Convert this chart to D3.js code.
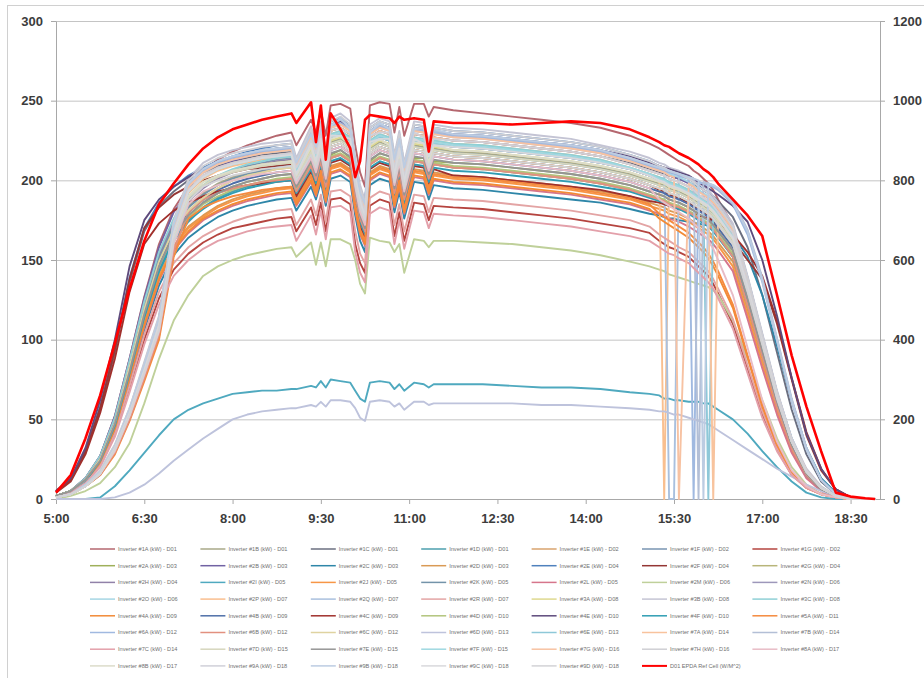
<!DOCTYPE html>
<meta charset="utf-8">
<script src="https://d3js.org/d3.v7.min.js"></script>
<style>
  body { margin: 0; background: #fff; }
  svg { display: block; }
</style>
<div id="chart"></div>
<script>
// sample times, shared by every series (finer steps where the clouds and outages are)
var times = ["5:00","5:15","5:30","5:45","6:00","6:15","6:30","6:45","7:00","7:15","7:30","7:45","8:00","8:15","8:30","8:45","9:00",
  "9:05","9:20","9:25","9:30","9:35","9:40","9:50","10:00","10:05","10:10","10:15","10:20","10:30","10:40","10:45","10:50","10:55","11:05","11:15","11:20","11:25",
  "11:45","12:15","12:45","13:15","13:45","14:15","14:45","15:05",
  "15:15","15:20","15:25","15:30","15:35","15:45","15:50","15:55","16:00","16:05","16:10","16:15",
  "16:30","16:45","17:00","17:15","17:30","17:45","18:00","18:15","18:30","18:45","18:55"];

var seriesNames = [
  "Inverter #1A (kW) - D01","Inverter #1B (kW) - D01","Inverter #1C (kW) - D01","Inverter #1D (kW) - D01","Inverter #1E (kW) - D02","Inverter #1F (kW) - D02","Inverter #1G (kW) - D02",
  "Inverter #2A (kW) - D03","Inverter #2B (kW) - D03","Inverter #2C (kW) - D03","Inverter #2D (kW) - D03","Inverter #2E (kW) - D04","Inverter #2F (kW) - D04","Inverter #2G (kW) - D04",
  "Inverter #2H (kW) - D04","Inverter #2I (kW) - D05","Inverter #2J (kW) - D05","Inverter #2K (kW) - D05","Inverter #2L (kW) - D05","Inverter #2M (kW) - D06","Inverter #2N (kW) - D06",
  "Inverter #2O (kW) - D06","Inverter #2P (kW) - D07","Inverter #2Q (kW) - D07","Inverter #2R (kW) - D07","Inverter #3A (kW) - D08","Inverter #3B (kW) - D08","Inverter #3C (kW) - D08",
  "Inverter #4A (kW) - D09","Inverter #4B (kW) - D09","Inverter #4C (kW) - D09","Inverter #4D (kW) - D10","Inverter #4E (kW) - D10","Inverter #4F (kW) - D10","Inverter #5A (kW) - D11",
  "Inverter #6A (kW) - D12","Inverter #6B (kW) - D12","Inverter #6C (kW) - D12","Inverter #6D (kW) - D13","Inverter #6E (kW) - D13","Inverter #7A (kW) - D14","Inverter #7B (kW) - D14",
  "Inverter #7C (kW) - D14","Inverter #7D (kW) - D15","Inverter #7E (kW) - D15","Inverter #7F (kW) - D15","Inverter #7G (kW) - D16","Inverter #7H (kW) - D16","Inverter #8A (kW) - D17",
  "Inverter #8B (kW) - D17","Inverter #9A (kW) - D18","Inverter #9B (kW) - D18","Inverter #9C (kW) - D18","Inverter #9D (kW) - D18"];
var refName = "D01 EPDA Ref Cell (W/M^2)";

// kW per inverter, one row per series, same order as seriesNames
var inverterKw = [
  [2,5,13,27,52,88,127,160,182,196,206,213,218,222,225,228,230, 222,238,230,244,228,247,248,245,222,205,196,247,249,248,230,246,228,248,248,240,246, 244,242,240,238,236,233,228,223, 220,218,216,214,212,209,206,204,201,198,194,188, 172,138,102,66,37,18,7,2,0,0,0],
  [2,5,12,26,49,84,121,151,172,184,192,198,202,205,207,209,210, 200,218,210,222,206,224,226,221,200,183,176,220,224,221,201,216,197,222,221,211,220, 218,217,215,213,211,208,204,200, 198,197,195,194,193,190,188,186,184,182,179,175, 163,132,98,64,36,17,7,2,0,0,0],
  [5,12,29,56,92,136,168,184,193,200,205,209,212,214,216,217,218, 206,226,218,229,212,231,233,229,207,190,182,227,231,229,208,223,204,229,228,218,227, 225,224,222,220,218,215,211,207, 205,204,203,202,201,199,197,196,194,192,190,187, 177,158,128,92,56,28,11,3,0,0,0],
  [2,5,11,23,45,78,113,142,162,174,183,189,193,196,198,200,201, 193,209,199,212,195,214,216,212,190,174,166,210,214,212,192,206,187,212,211,200,210, 208,207,205,203,201,198,194,190, 188,187,185,184,183,180,178,176,174,172,169,165, 152,122,90,58,32,15,6,2,0,0,0],
  [2,5,12,25,48,83,119,149,169,181,189,195,200,203,205,207,208, 200,216,208,219,203,221,223,219,198,183,175,217,221,219,199,213,195,219,218,208,217, 215,214,212,210,208,205,201,197, 195,194,192,191,190,187,185,183,181,179,176,172, 160,130,97,63,36,17,7,2,0,0,0],
  [2,5,13,27,51,86,123,154,175,188,196,202,206,209,211,213,214, 205,222,212,225,208,227,229,225,203,186,177,223,227,225,204,219,200,225,224,214,223, 221,220,218,216,214,211,207,203, 201,200,198,197,196,193,191,189,187,185,182,178, 166,135,100,66,37,18,7,2,0,0,0],
  [2,4,10,21,40,70,100,126,144,154,161,166,170,172,174,176,177, 168,183,172,186,168,188,189,185,160,148,142,184,188,186,165,180,162,186,185,175,184, 183,182,180,178,176,173,170,167, 162,160,158,157,155,152,149,146,143,140,135,129, 110,82,53,31,15,7,3,1,0,0,0],
  [2,5,12,24,47,80,116,146,166,178,186,192,196,199,201,203,204, 195,211,204,214,199,216,219,214,193,176,169,212,217,215,195,208,190,214,214,203,212, 211,210,208,206,204,201,197,193, 191,190,188,187,186,183,181,179,177,175,172,168, 156,126,93,61,34,16,6,2,0,0,0],
  [2,5,13,27,52,88,126,158,180,193,202,208,212,215,217,219,220, 210,229,219,232,214,234,236,232,208,190,181,230,234,232,210,226,206,232,231,220,230, 228,227,225,223,221,218,213,209, 206,205,203,202,201,198,196,194,191,189,186,182, 169,137,102,66,37,18,7,2,0,0,0],
  [1,4,10,22,42,73,106,134,153,164,171,177,181,184,186,188,189, 181,196,188,199,184,201,203,199,178,162,155,197,201,199,180,193,176,199,198,188,197, 195,194,192,190,188,186,182,179, 178,177,176,176,175,174,173,173,172,172,171,170, 166,152,128,96,62,32,13,4,1,0,0],
  [2,5,11,23,45,77,111,140,159,171,178,184,188,191,193,195,196, 188,204,195,207,191,209,211,207,186,170,163,205,209,207,188,201,183,207,206,196,205, 203,202,200,198,196,193,190,186, 184,183,181,180,179,176,174,172,170,168,165,161, 149,119,88,57,31,15,6,2,0,0,0],
  [5,12,30,58,95,139,170,186,196,203,208,212,215,218,220,222,223, 212,232,222,235,217,237,239,235,211,193,184,233,237,235,213,229,209,235,234,223,233, 231,230,228,226,224,221,216,212, 209,208,206,205,204,201,199,197,194,192,189,184, 171,139,103,67,38,18,7,2,0,0,0],
  [5,12,30,57,94,138,170,183,191,196,200,203,205,207,208,209,210, 200,216,208,219,203,221,223,219,198,182,174,217,221,219,199,213,195,219,218,208,217, 215,214,212,210,208,205,201,197, 194,193,191,190,189,186,184,182,180,177,174,170, 162,150,138,110,75,40,18,6,1,0,0],
  [1,3,8,15,29,50,76,102,155,180,188,192,195,197,199,200,201, 193,209,200,212,196,214,216,212,191,176,168,210,214,212,192,206,188,212,211,201,210, 208,207,205,203,201,198,194,190, 188,187,185,184,183,180,178,176,174,172,169,165, 152,122,90,58,32,15,6,2,0,0,0],
  [2,5,13,26,50,85,122,153,174,187,195,201,205,208,210,212,213, 205,222,213,225,208,227,229,225,203,186,178,223,227,225,204,219,200,225,224,214,223, 221,220,218,216,214,211,207,203, 200,199,197,196,195,192,190,188,186,184,181,177, 164,133,99,64,36,17,7,2,0,0,0],
  [0,0,0,1,8,18,29,40,50,56,60,63,66,67,68,68,69, 69,71,70,74,70,75,74,73,68,63,61,73,74,73,69,72,68,73,72,70,72, 72,72,71,70,70,69,67,66, 65,63,63,62,62,61,61,61,60,60,58,56, 50,41,30,20,11,4,1,0,0,0,0],
  [2,5,11,23,44,76,110,139,158,170,177,183,187,190,192,194,195, 186,202,193,205,189,207,209,205,184,168,161,203,207,205,186,199,181,205,204,194,203, 201,200,198,196,194,191,188,184, 182,181,179,178,177,174,172,170,168,166,163,159, 146,116,85,55,30,14,5,1,0,0,0],
  [2,5,12,25,49,84,120,151,171,183,191,197,201,204,206,208,209, 202,218,209,221,205,223,225,221,200,184,176,219,223,221,201,215,197,221,220,210,219, 217,216,214,212,210,207,203,199, 197,196,194,193,192,189,187,185,183,181,178,174, 161,131,97,63,35,17,7,2,0,0,0],
  [2,5,11,23,44,75,108,137,156,167,175,180,184,187,189,191,192, 184,199,190,202,186,204,206,202,181,166,159,200,204,202,183,196,179,202,201,191,200, 198,197,195,193,191,188,185,181, 179,178,176,175,174,171,169,167,165,163,160,156, 143,113,82,53,29,13,5,1,0,0,0],
  [0,2,5,10,20,35,60,88,112,128,140,146,150,153,155,157,158, 152,161,147,161,146,163,163,160,150,135,129,164,162,161,155,160,142,163,162,158,162, 162,161,160,158,156,153,149,146, 144,143,141,140,139,137,136,135,134,133,131,128, 112,88,62,38,20,9,3,1,0,0,0],
  [1,3,8,17,32,55,82,110,168,194,203,208,211,213,215,216,217, 206,226,216,229,212,231,233,229,206,189,180,227,231,229,208,223,203,229,228,217,227, 225,224,222,220,218,215,210,206, 204,203,201,200,199,196,194,191,189,187,184,180, 167,135,100,66,37,18,7,2,0,0,0],
  [1,3,9,17,33,56,84,113,172,198,207,212,215,217,219,220,221, 210,230,220,233,216,235,238,233,210,193,184,231,235,233,212,227,207,233,232,221,231, 229,228,226,224,222,219,214,210, 207,206,204,203,202,199,197,194,192,190,187,183, 170,138,102,67,38,18,7,2,0,0,0],
  [1,3,8,16,32,54,80,109,166,192,201,206,209,211,213,214,215, 208,224,214,227,210,229,231,227,205,188,179,225,229,227,206,221,202,227,226,215,225, 223,222,220,218,216,213,208,204, 202,0,199,198,197,194,192,190,188,186,183,179, 166,134,99,65,36,17,7,2,0,0,0],
  [1,3,8,17,33,55,83,111,170,196,205,210,213,215,217,218,219, 209,228,218,231,214,233,235,231,208,191,182,229,233,231,210,225,205,231,230,219,229, 227,226,224,222,220,217,212,208, 206,205,0,0,203,201,200,199,198,197,196,194, 186,168,138,100,62,32,12,3,0,0,0],
  [2,4,10,21,41,71,103,130,148,158,165,170,174,177,179,181,182, 172,188,178,191,174,193,194,190,168,154,148,189,193,191,172,185,168,191,190,180,189, 188,187,185,183,181,178,175,171, 166,164,162,160,158,155,152,149,146,143,138,132, 113,84,55,32,16,7,3,1,0,0,0],
  [1,3,8,16,31,53,80,108,164,190,199,203,206,208,210,211,212, 204,220,211,223,207,225,227,223,202,185,177,221,225,223,203,217,199,223,222,212,221, 219,218,216,214,212,209,205,201, 199,198,196,195,194,191,189,187,185,183,180,176, 163,132,98,64,36,17,7,2,0,0,0],
  [1,3,9,18,34,57,86,115,175,201,211,216,219,221,223,224,225, 214,234,224,237,220,239,242,237,214,197,187,235,239,237,216,231,211,237,236,225,235, 233,232,230,228,226,222,218,214, 211,210,208,207,206,203,200,198,196,194,190,186, 173,140,104,68,38,19,8,2,0,0,0],
  [2,5,13,27,51,87,124,155,176,189,197,203,207,210,212,214,215, 207,224,215,227,210,229,231,227,205,188,180,225,229,227,206,221,202,227,226,216,225, 223,222,220,218,216,213,208,204, 202,201,199,198,197,194,192,190,188,186,183,179, 166,134,99,65,36,17,7,2,0,0,0],
  [2,5,11,23,44,76,109,138,157,168,176,181,185,188,190,192,193, 185,200,191,203,187,205,207,203,182,167,160,201,205,203,184,197,180,203,202,192,201, 199,198,196,194,192,189,186,182, 176,174,172,170,168,164,161,158,155,151,146,140, 120,89,58,34,17,7,3,1,0,0,0],
  [2,5,12,25,48,82,118,148,168,180,188,194,198,201,203,205,206, 198,214,205,217,201,219,221,217,196,180,172,215,219,217,197,211,193,217,216,206,215, 213,212,210,208,206,203,199,195, 193,192,190,189,188,185,183,181,179,177,174,170, 158,128,95,62,35,17,7,2,0,0,0],
  [4,11,28,54,88,130,160,173,181,186,190,193,195,197,198,199,200, 190,206,196,209,192,211,213,209,187,171,164,207,211,209,189,203,185,209,208,198,207, 203,202,200,198,196,194,190,187, 186,185,184,183,182,180,179,178,177,176,175,173, 166,155,140,112,76,42,19,6,1,0,0],
  [2,5,12,24,47,80,116,145,165,177,185,190,194,197,199,201,202, 194,210,201,213,197,215,217,213,192,176,168,211,215,213,193,207,189,213,212,202,211, 209,208,206,204,202,199,195,191, 189,188,186,185,184,181,179,177,175,173,170,166, 154,125,93,60,34,16,6,2,0,0,0],
  [5,13,32,62,100,146,175,188,196,202,207,211,214,216,218,220,221, 210,230,220,233,216,235,237,233,210,193,184,231,235,233,212,227,207,233,232,221,231, 229,228,226,224,222,219,215,211, 209,208,207,206,205,203,201,199,197,195,193,191, 184,174,150,115,76,41,19,6,1,0,0],
  [2,5,11,24,46,79,114,143,163,175,182,188,192,195,197,199,200, 192,207,198,210,194,212,214,210,190,174,166,208,212,210,191,204,186,210,209,199,208, 206,205,203,201,199,196,193,189, 187,186,184,183,182,179,177,175,173,171,168,164, 152,123,91,59,33,15,6,2,0,0,0],
  [1,3,8,15,28,49,74,100,152,176,183,187,190,192,194,195,196, 187,203,194,206,190,208,210,206,185,169,162,204,208,206,187,200,182,206,205,195,204, 202,201,199,197,195,192,189,185, 179,177,175,173,171,167,164,161,158,154,149,143, 122,90,59,34,17,8,3,1,0,0,0],
  [1,3,8,17,33,56,84,113,172,197,206,211,214,216,218,219,220, 210,229,219,232,215,234,236,232,209,192,183,230,234,232,211,226,206,232,231,220,230, 228,227,225,223,221,218,213,209, 207,206,205,204,203,201,0,199,198,197,196,194, 185,166,136,99,61,31,12,3,0,0,0],
  [1,3,8,15,29,50,76,103,156,180,188,192,195,197,199,200,201, 193,209,200,212,196,214,216,212,191,176,168,210,214,212,192,206,188,212,211,201,210, 208,207,205,203,201,198,194,190, 188,187,185,184,183,180,178,176,174,172,169,165, 152,122,90,58,32,15,6,2,0,0,0],
  [2,5,12,25,48,83,119,149,169,181,189,195,200,203,205,207,208, 200,216,207,219,203,221,223,219,198,182,174,217,221,219,199,213,195,219,218,208,217, 215,214,212,210,208,205,201,197, 195,194,192,191,190,187,185,183,181,179,176,172, 160,130,97,63,36,17,7,2,0,0,0],
  [0,0,0,0,1,4,9,16,24,31,38,44,50,53,55,56,57, 57,59,58,61,58,62,62,61,57,51,49,61,62,61,58,60,56,61,61,59,60, 60,60,60,59,59,58,57,56, 55,55,54,53,53,51,50,49,48,47,45,43, 37,31,25,19,14,9,5,2,0,0,0],
  [1,3,8,16,32,54,81,109,167,193,202,207,210,212,214,215,216, 205,222,213,225,208,227,229,225,203,186,178,223,227,225,204,219,200,225,224,214,223, 221,220,218,216,214,211,207,203, 200,199,197,196,195,192,190,188,186,0,181,177, 164,133,99,64,36,17,7,2,0,0,0],
  [1,3,8,17,32,55,82,110,168,194,203,208,211,213,215,216,217, 207,226,216,229,212,231,233,229,206,189,180,227,231,229,208,223,203,229,228,217,227, 225,224,222,220,218,215,210,206, 204,203,201,200,199,196,194,191,189,187,0,180, 167,135,100,66,37,18,7,2,0,0,0],
  [1,3,9,17,33,56,84,113,172,198,207,212,215,217,219,220,221, 210,230,220,233,216,235,238,233,210,193,184,231,235,233,212,227,207,233,232,221,231, 229,228,226,224,222,219,214,210, 208,207,206,205,204,202,201,0,199,198,197,195, 187,169,139,101,63,32,12,3,0,0,0],
  [1,4,10,20,39,67,97,122,140,150,157,162,165,168,170,171,172, 162,178,166,181,163,183,184,180,155,142,136,179,183,181,160,175,157,181,180,170,179, 178,177,175,173,171,168,165,162, 158,156,154,153,151,148,145,142,139,136,132,126, 107,79,51,30,15,7,3,1,0,0,0],
  [1,3,8,16,31,53,79,107,163,189,197,202,205,207,209,210,211, 202,218,209,221,205,223,225,221,200,184,176,219,223,221,201,215,197,221,220,210,219, 217,216,214,212,210,207,203,199, 197,196,194,193,192,189,187,185,183,181,178,174, 161,131,97,63,35,17,7,2,0,0,0],
  [2,5,12,24,47,80,116,146,166,178,186,192,196,199,201,203,204, 196,212,203,215,199,217,219,215,194,178,170,213,217,215,195,209,191,215,214,204,213, 211,210,208,206,204,201,197,193, 191,190,188,187,186,183,181,179,177,175,172,168, 156,126,93,61,34,16,6,2,0,0,0],
  [1,3,8,16,32,54,81,109,167,193,202,207,210,212,214,215,216, 206,223,214,226,209,228,230,226,204,187,179,224,228,226,205,220,201,226,225,215,224, 222,221,219,217,215,212,208,204, 201,200,198,197,196,193,191,189,187,185,182,178, 165,134,99,65,36,17,7,2,0,0,0],
  [1,3,8,17,33,55,83,111,170,196,205,210,213,215,217,218,219, 209,228,218,231,214,233,235,231,208,191,182,229,233,231,210,225,205,231,230,219,229, 227,226,224,222,220,217,212,208, 206,205,203,202,0,198,196,193,191,189,186,182, 169,137,101,66,37,18,7,2,0,0,0],
  [1,3,9,18,34,57,85,114,174,200,209,214,217,219,221,222,223, 212,232,222,235,218,237,240,235,212,195,185,233,237,235,214,229,209,235,234,223,233, 231,230,228,226,224,221,216,212, 209,208,206,205,204,201,199,196,194,192,188,184, 171,139,103,67,38,18,7,2,0,0,0],
  [1,3,8,16,30,52,78,105,160,185,193,197,200,202,204,205,206, 198,214,205,217,201,219,221,217,196,180,172,215,219,217,197,211,193,217,216,206,215, 213,212,210,208,206,203,199,195, 188,186,184,182,180,176,173,170,166,162,157,150, 128,95,62,36,18,8,3,1,0,0,0],
  [1,3,8,16,31,53,80,108,164,190,199,203,206,208,210,211,212, 203,221,210,224,206,226,228,222,201,186,176,222,226,222,202,218,198,224,223,211,222, 219,218,216,214,212,209,205,201, 199,198,196,195,194,191,189,187,185,183,180,176, 163,132,98,64,36,17,7,2,0,0,0],
  [1,3,8,17,32,55,82,110,168,194,203,208,211,213,215,216,217, 208,225,217,228,211,232,232,230,205,190,179,228,230,230,207,224,202,230,227,218,226, 225,224,222,220,218,215,210,206, 204,203,201,200,199,196,194,191,189,187,184,180, 167,135,100,66,37,18,7,2,0,0,0],
  [1,3,9,17,33,56,84,113,172,198,207,212,215,217,219,220,221, 211,229,221,232,217,234,239,232,211,192,185,230,236,232,213,226,208,232,233,220,232, 229,228,226,224,222,219,214,210, 208,207,206,205,204,202,201,200,0,198,197,195, 186,168,137,100,62,31,12,3,0,0,0],
  [1,3,8,16,32,54,81,109,167,193,202,207,210,212,214,215,216, 204,223,212,226,207,228,228,226,202,187,177,224,226,226,203,220,199,226,223,215,222, 221,220,218,216,214,211,207,203, 200,199,197,196,195,192,190,188,186,184,181,177, 164,133,99,64,36,17,7,2,0,0,0],
  [1,3,8,16,31,53,79,106,162,187,196,200,203,205,207,208,209, 200,216,208,219,203,221,223,219,198,183,175,217,221,219,199,213,195,219,218,208,217, 215,214,212,210,208,205,201,197, 195,194,192,191,190,187,185,183,181,179,176,172, 160,130,97,63,36,17,7,2,0,0,0]
];

// reference cell irradiance, W/m^2 (right axis)
var refCellWm2 = [16,60,152,260,392,528,648,740,792,840,880,908,928,940,952,960,968,
  944,996,896,988,852,968,928,880,808,848,952,964,960,956,944,960,952,956,952,872,948,
  944,944,940,944,948,944,928,908,
  896,888,884,876,868,856,848,840,828,820,808,792,
  752,712,660,512,360,232,120,16,6,2,0];

var leftTicks = [0, 50, 100, 150, 200, 250, 300];
var rightTicks = [0, 200, 400, 600, 800, 1000, 1200];
var xTickLabels = ["5:00","6:30","8:00","9:30","11:00","12:30","14:00","15:30","17:00","18:30"];

var lineColors = [
  "#b5676f","#a8a889","#6b6f80","#4d9fae","#d9a36e","#7895b2","#b5443f",
  "#9fb05a","#7162a3","#2e86a8","#d99a55","#4f81bd","#943634","#b8b57a",
  "#9181a8","#4fa9bf","#f79646","#7393a9","#d6758b","#bfd09a","#9d97ba",
  "#a6d6e4","#f9bf8f","#a9c0de","#e3a4a4","#ded98f","#c4c4d4","#8fd0d6",
  "#f28a36","#4f6fa8","#a0302c","#b2c47c","#5e4a7c","#2f9db3","#f58a3e",
  "#a0b9e0","#e2907f","#dfd3a0","#bec3dc","#8ec8d8","#f8c39d","#b3bfd6",
  "#e3a0aa","#d6d6bd","#959595","#9fd8e1","#f7c2a2","#cfcfd4","#e8bcc6",
  "#dcdcca","#d0d0d8","#bccce2","#d8d8dc","#d3d3d6"];
var refColor = "#ff0000";

inverterKw.forEach(function(row, i) {
  if (row.length !== times.length) console.warn("row", i, "has", row.length, "values");
});

var width = 924, height = 678;
var svg = d3.select("#chart").append("svg")
  .attr("width", width)
  .attr("height", height);

// chart frame
svg.append("rect")
  .attr("x", 7.5).attr("y", 5.5)
  .attr("width", 930).attr("height", 690)
  .attr("fill", "#fff")
  .attr("stroke", "#d0d0d0");

function toMin(t) {
  var p = t.split(":");
  return (+p[0] - 5) * 60 + (+p[1]);
}

var x = d3.scaleLinear().domain([0, 840]).range([56, 880]);
var y = d3.scaleLinear().domain([0, 300]).range([499, 21]);
var y2 = d3.scaleLinear().domain([0, 1200]).range([499, 21]);

// gridlines
var grid = svg.append("g")
  .attr("transform", "translate(56,0)")
  .call(d3.axisLeft(y).tickValues(leftTicks.slice(1)).tickSize(-824).tickFormat(""));
grid.select(".domain").remove();
grid.selectAll("line").attr("stroke", "#c4c4c4");

function styleAxis(g) {
  g.select(".domain").attr("stroke", "#a8a8a8");
  g.selectAll(".tick line").attr("stroke", "#a8a8a8");
  g.selectAll("text")
    .attr("fill", "#3c3c3c")
    .style("font-family", "'Liberation Sans', Arial, sans-serif")
    .style("font-size", "13px")
    .style("font-weight", "bold");
}

svg.append("g")
  .attr("transform", "translate(56,0)")
  .call(d3.axisLeft(y).tickValues(leftTicks).tickSize(5).tickSizeOuter(0).tickPadding(8))
  .call(styleAxis);

svg.append("g")
  .attr("transform", "translate(880,0)")
  .call(d3.axisRight(y2).tickValues(rightTicks).tickFormat(d3.format("d"))
    .tickSize(5).tickSizeOuter(0).tickPadding(8))
  .call(styleAxis);

svg.append("g")
  .attr("transform", "translate(0,499)")
  .call(d3.axisBottom(x).tickValues(xTickLabels.map(toMin))
    .tickFormat(function(d, i) { return xTickLabels[i]; })
    .tickSize(5).tickSizeOuter(0).tickPadding(10))
  .call(styleAxis);

// lines
var kwLine = d3.line()
  .x(function(d, i) { return x(toMin(times[i])); })
  .y(function(d) { return y(d); });

var refLine = d3.line()
  .x(function(d, i) { return x(toMin(times[i])); })
  .y(function(d) { return y2(d); });

svg.append("g").selectAll("path")
  .data(inverterKw)
  .enter()
  .append("path")
  .attr("d", kwLine)
  .attr("fill", "none")
  .attr("stroke", function(d, i) { return lineColors[i]; })
  .attr("stroke-width", 1.9)
  .attr("stroke-linejoin", "round");

svg.append("path")
  .datum(refCellWm2)
  .attr("d", refLine)
  .attr("fill", "none")
  .attr("stroke", refColor)
  .attr("stroke-width", 2.6)
  .attr("stroke-linejoin", "round");

// legend, 7 columns
var legendItems = seriesNames.map(function(n, i) { return { name: n, color: lineColors[i], w: 1.5 }; });
legendItems.push({ name: refName, color: refColor, w: 2 });

var legend = svg.append("g").selectAll("g")
  .data(legendItems)
  .enter()
  .append("g")
  .attr("transform", function(d, i) {
    return "translate(" + (90 + (i % 7) * 110.4) + "," + (549 + Math.floor(i / 7) * 16.7) + ")";
  });

legend.append("line")
  .attr("x1", 0).attr("x2", 25)
  .attr("stroke", function(d) { return d.color; })
  .attr("stroke-width", function(d) { return d.w; });

legend.append("text")
  .attr("x", 28)
  .attr("dy", "0.35em")
  .attr("fill", "#707070")
  .style("font-family", "'Liberation Sans', Arial, sans-serif")
  .style("font-size", "5.6px")
  .text(function(d) { return d.name; });
</script>
